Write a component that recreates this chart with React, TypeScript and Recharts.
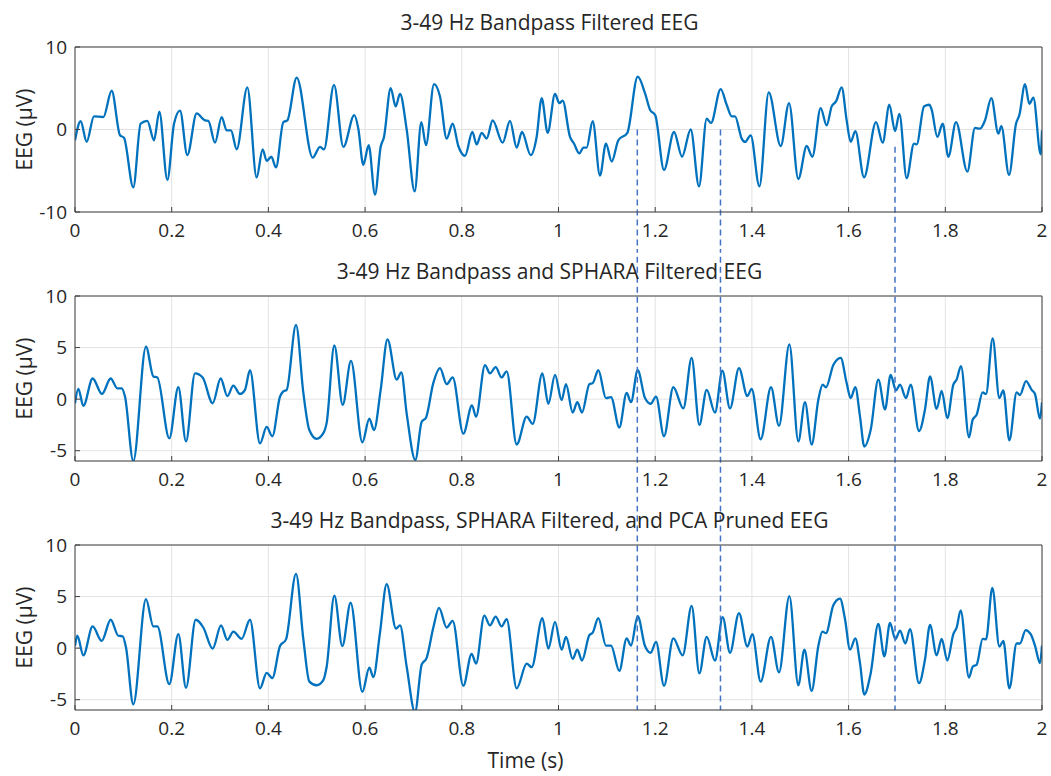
import React from 'react';
import { LineChart, Line, XAxis, YAxis, CartesianGrid, ReferenceLine, Label } from 'recharts';

const timeTicks = [0, 0.2, 0.4, 0.6, 0.8, 1, 1.2, 1.4, 1.6, 1.8, 2];
const p1Ticks = [-10, 0, 10];
const p23Ticks = [-5, 0, 5, 10];

const titles = [
  '3-49 Hz Bandpass Filtered EEG',
  '3-49 Hz Bandpass and SPHARA Filtered EEG',
  '3-49 Hz Bandpass, SPHARA Filtered, and PCA Pruned EEG',
];

const markerTimes = [1.163, 1.335, 1.696];
const markerStartP1 = [0, 0, -2.1];

const p1Times = [
  0, 0.0117, 0.0241, 0.0393, 0.0586, 0.0758, 0.0931, 0.1013, 0.1206, 0.1358, 0.1496, 0.1634, 0.1744, 0.191, 0.2048, 0.2172, 0.2323, 0.2516, 0.2689, 0.2758, 0.2896, 0.3033, 0.3137, 0.3226, 0.3344, 0.3564, 0.3757, 0.3881, 0.3964, 0.406, 0.4157, 0.4309, 0.4392, 0.4585, 0.4916, 0.5067,
  0.515, 0.5357, 0.555, 0.5777, 0.586, 0.5963, 0.6074, 0.6205, 0.6322, 0.6391, 0.6529, 0.6632, 0.6722, 0.686, 0.7025, 0.7163, 0.7259, 0.7425, 0.7549, 0.7687, 0.7811, 0.7928, 0.8066, 0.8218, 0.8307, 0.8411, 0.8514, 0.8638, 0.8845, 0.8997, 0.9135, 0.9245, 0.9424, 0.9548, 0.9652, 0.9776, 0.9928,
  1.0017, 1.0086, 1.0238, 1.032, 1.0431, 1.0514, 1.0582, 1.0707, 1.0858, 1.0982, 1.11, 1.1238, 1.1424, 1.1638, 1.1789, 1.1893, 1.2003, 1.2182, 1.2389, 1.2555, 1.2734, 1.2906, 1.3065, 1.3154, 1.3354, 1.3478, 1.3582, 1.3651, 1.3789, 1.3858, 1.3975, 1.4155, 1.4348, 1.4596, 1.4768,
  1.496, 1.5133, 1.525, 1.5422, 1.5546, 1.565, 1.574, 1.5857, 1.596, 1.6043, 1.6139, 1.6319, 1.6567, 1.6705, 1.6843, 1.696, 1.705, 1.7201, 1.7353, 1.7408, 1.756, 1.767, 1.7718, 1.7835, 1.7946, 1.8063, 1.8222, 1.8456, 1.8615, 1.8718, 1.8821, 1.8952, 1.9097, 1.9159, 1.9318, 1.9463, 1.9532, 1.9649, 1.9738, 1.9821, 1.9973, 2.0,
];
const p1Values = [
  -1.3, 1.0, -1.5, 1.6, 1.5, 4.7, -0.7, -1.0, -7.0, 0.7, 1.05, -1.3, 2.15, -6.1, 0.7, 2.3, -3.1, 1.95, 1.1, 1.05, -1.6, 1.5, -0.1, -0.1, -2.4, 5.1, -5.8, -2.4, -3.8, -3.3, -4.6, 0.9, 1.1, 6.3, -3.4, -2.1,
  -2.4, 5.4, -2.1, 1.75, 0.1, -4.3, -1.9, -7.9, -2.1, -0.9, 5.0, 2.8, 4.3, 0.0, -7.5, 0.9, -1.9, 5.5, 4.0, -1.1, 0.7, -2.0, -3.2, -0.3, -1.8, -0.4, -1.1, 1.1, -1.6, 1.05, -2.2, -0.3, -3.1, -0.9, 3.8, -0.4, 4.3,
  3.2, 3.5, -0.9, -1.7, -2.9, -2.2, -2.2, 1.0, -5.6, -1.7, -3.9, -1.3, -0.4, 6.4, 4.4, 2.4, 1.7, -4.9, -0.3, -3.3, 0.0, -6.9, 1.3, 0.8, 4.9, 3.0, 1.6, 1.6, -1.1, -1.5, -0.7, -6.9, 4.5, -2.0, 3.2,
  -6.0, -2.0, -3.3, 2.6, 0.5, 2.8, 3.4, 5.1, 1.1, -1.5, -0.2, -5.8, 0.9, -1.6, 3.0, -0.2, 1.9, -5.9, -1.7, -1.8, 2.8, 3.0, 2.4, -0.9, 0.7, -3.3, 0.9, -5.1, 0.2, 0.1, 1.1, 3.8, -0.5, 0.4, -5.5, 0.7, 1.75, 5.5, 3.1, 3.85, -3.0, -0.1,
];

const p2Times = [
  0, 0.0069, 0.0172, 0.0365, 0.0558, 0.0738, 0.0876, 0.0965, 0.1034, 0.1206, 0.1468, 0.162, 0.1703, 0.1951, 0.2137, 0.2296, 0.2482, 0.264, 0.2847, 0.3013, 0.3151, 0.3275, 0.3413, 0.3516, 0.3619, 0.3826, 0.3964, 0.4081, 0.424, 0.4309, 0.4378, 0.4571, 0.4723, 0.4847,
  0.4998, 0.5136, 0.5205, 0.5364, 0.5536, 0.5708, 0.5943, 0.6088, 0.6184, 0.6322, 0.6463, 0.6653, 0.6749, 0.686, 0.7039, 0.717, 0.7259, 0.741, 0.7549, 0.7687, 0.7811, 0.8032, 0.8211, 0.8294, 0.848, 0.8583, 0.87, 0.8824, 0.8928, 0.9135, 0.9342, 0.9466, 0.9666, 0.979, 0.9928,
  1.0065, 1.0155, 1.0293, 1.0389, 1.0486, 1.0638, 1.0707, 1.0824, 1.0982, 1.1086, 1.1258, 1.141, 1.1499, 1.1638, 1.1789, 1.1906, 1.2017, 1.2182, 1.2375, 1.2582, 1.2754, 1.2913, 1.3065, 1.3237, 1.3389, 1.3547, 1.3733, 1.3906, 1.3995, 1.4181, 1.4395, 1.4561, 1.4775,
  1.496, 1.5098, 1.5236, 1.5374, 1.5464, 1.5533, 1.5684, 1.5836, 1.596, 1.6043, 1.6139, 1.6236, 1.6325, 1.6456, 1.6615, 1.6753, 1.687, 1.698, 1.7063, 1.7187, 1.7284, 1.7456, 1.758, 1.7684, 1.7821, 1.7925, 1.8042, 1.8166, 1.8235, 1.8325, 1.849, 1.8566, 1.8649, 1.8773, 1.8842, 1.898, 1.9118, 1.92, 1.9325, 1.9476, 1.9545, 1.9669, 1.9786, 1.9855, 1.9959, 2.0,
];
const p2Values = [
  -0.4, 1.0, -0.65, 2.0, 0.5, 2.0, 1.05, 1.05, 0.25, -6.0, 5.1, 2.2, 2.1, -3.8, 1.15, -4.1, 2.5, 2.1, -0.4, 2.0, 0.3, 1.3, 0.5, 0.9, 2.8, -4.3, -2.7, -3.6, 0.25, 0.75, 0.9, 7.2, 0.6, -3.0,
  -3.85, -3.3, -2.3, 5.2, -0.55, 3.7, -4.2, -1.9, -3.0, 0.9, 5.8, 1.9, 2.6, -1.4, -5.9, -2.2, -1.8, 1.55, 3.0, 1.45, 2.1, -3.35, -0.6, -1.7, 3.3, 2.5, 3.1, 2.1, 2.7, -4.4, -1.7, -2.4, 2.5, -0.45, 2.35,
  -0.1, 1.45, -1.3, -0.3, -1.3, 1.45, 1.55, 2.8, 0.1, 0.2, -2.75, 0.6, -0.3, 2.8, 0.1, -0.45, 0.25, -3.6, 1.15, -0.9, 4.0, -2.5, 0.9, -1.3, 2.75, -0.9, 3.0, 0.3, 1.0, -3.9, 1.15, -2.6, 5.3,
  -4.1, -0.3, -4.4, -0.05, 1.4, 1.15, 3.3, 4.0, 1.55, 0.1, 1.15, -1.7, -4.6, -3.0, 1.9, -1.0, 2.35, 0.85, 1.4, 0.1, 1.4, -3.1, -1.0, 2.2, -0.95, 0.8, -1.85, 1.4, 1.9, 3.2, -3.7, -2.0, -1.5, 0.65, 0.5, 5.9, 0.1, 0.85, -4.0, 0.65, 0.4, 1.75, 0.9, 0.5, -1.9, -0.3,
];

const p3Times = [
  0, 0.0048, 0.0172, 0.0365, 0.0552, 0.0738, 0.0896, 0.0986, 0.1055, 0.1206, 0.1468, 0.162, 0.1703, 0.1951, 0.2137, 0.2296, 0.2496, 0.2654, 0.2847, 0.302, 0.3151, 0.3275, 0.3447, 0.3619, 0.3826, 0.3964, 0.4081, 0.424, 0.4364, 0.4571, 0.4723, 0.4847, 0.4998,
  0.5136, 0.5205, 0.5364, 0.5529, 0.5701, 0.5943, 0.6088, 0.617, 0.6308, 0.6446, 0.6639, 0.6722, 0.686, 0.7032, 0.717, 0.7273, 0.7411, 0.7529, 0.7687, 0.7811, 0.8032, 0.8204, 0.8294, 0.8466, 0.8583, 0.87, 0.8824, 0.8928, 0.9135, 0.9342, 0.9445, 0.9666, 0.979, 0.9928,
  1.0065, 1.0155, 1.0293, 1.0389, 1.0486, 1.0638, 1.0707, 1.0824, 1.0982, 1.1086, 1.1258, 1.141, 1.1499, 1.1638, 1.1789, 1.1906, 1.2017, 1.2182, 1.2375, 1.2568, 1.2754, 1.2913, 1.3065, 1.3237, 1.3396, 1.3547, 1.3733, 1.3906, 1.4009, 1.4181, 1.4395, 1.4561, 1.4775,
  1.496, 1.5085, 1.5236, 1.5374, 1.5457, 1.5533, 1.5684, 1.5822, 1.5926, 1.603, 1.6139, 1.6236, 1.6325, 1.6456, 1.6615, 1.6739, 1.6856, 1.6967, 1.7063, 1.7173, 1.727, 1.7456, 1.758, 1.7684, 1.7821, 1.7925, 1.8042, 1.8166, 1.8235, 1.8318, 1.849, 1.8566, 1.8649, 1.8773, 1.8842, 1.8973, 1.9118, 1.92, 1.9325, 1.9476, 1.9545, 1.9662, 1.9766, 1.9855, 1.9959, 2.0,
];
const p3Values = [
  0.2, 1.2, -0.7, 2.1, 0.7, 2.75, 1.2, 1.15, 0.05, -5.45, 4.75, 2.1, 2.1, -3.5, 1.35, -3.85, 2.75, 2.0, -0.05, 2.2, 0.8, 1.6, 0.9, 2.75, -3.9, -2.4, -2.9, 0.2, 0.85, 7.2, 0.85, -3.25, -3.6,
  -3.1, -1.8, 5.1, 0.2, 4.4, -4.25, -1.9, -2.8, 1.5, 6.2, 1.9, 2.2, -1.8, -6.2, -1.6, -0.95, 2.0, 3.9, 2.0, 2.65, -3.65, -0.55, -1.5, 3.15, 2.2, 3.05, 2.1, 2.8, -3.9, -1.5, -1.85, 2.9, -0.05, 2.55,
  -0.15, 1.1, -1.05, -0.15, -1.2, 1.25, 1.5, 2.9, 0.25, 0.25, -2.2, 0.95, 0.25, 3.1, 0.2, -0.45, 0.6, -3.65, 0.95, -0.7, 4.1, -2.45, 1.1, -1.2, 3.0, -0.45, 3.4, 0.15, 1.35, -3.25, 1.1, -2.35, 5.05,
  -3.6, -0.15, -4.15, 0.2, 1.6, 1.45, 4.15, 4.8, 2.8, -0.15, 0.95, -1.45, -4.5, -2.45, 2.35, -0.8, 2.45, 0.85, 1.7, 0.45, 1.85, -3.4, -1.1, 2.25, -0.7, 0.9, -1.2, 1.35, 2.0, 3.65, -2.85, -1.8, -1.6, 0.9, 0.85, 5.85, 0.15, 0.7, -3.9, 0.45, 0.45, 1.75, 1.35, 0.25, -1.45, 0.25,
];

const FONT = "'Open Sans', 'Noto Sans', sans-serif";
const AXIS = '#404040';
const TEXT = '#262626';
const LINE = '#0072BD';
const DASH = '#4472C4';

type PanelProps = {
  title: string;
  times: number[];
  values: number[];
  yDomain: [number, number];
  yTicks: number[];
  markerStart: number[];
  markerEnd: number;
  height: number;
  xAxisHeight: number;
  bottom: number;
  xLabel?: string;
};

function Panel(p: PanelProps) {
  const data = p.times.map((t, i) => ({ t, v: p.values[i] }));
  const titleContent = (props: any) => {
    const vb = props.viewBox;
    const cx = vb.x + vb.width / 2 - 9;
    return (
      <text x={cx} y={vb.y + vb.height - 25} textAnchor="middle" dominantBaseline="central" fill={TEXT} fontSize={21} fontFamily={FONT}>
        {p.title}
      </text>
    );
  };
  const yLabelContent = (props: any) => {
    const vb = props.viewBox;
    const cx = vb.x + 9;
    const cy = vb.y + vb.height / 2;
    return (
      <text x={cx} y={cy} transform={`rotate(-90, ${cx}, ${cy})`} textAnchor="middle" dominantBaseline="central" fill={TEXT} fontSize={21} fontFamily={FONT}>
        EEG (µV)
      </text>
    );
  };
  const xLabelContent = (props: any) => {
    const vb = props.viewBox;
    const cx = vb.x + vb.width / 2 - 33;
    return (
      <text x={cx} y={vb.y + 50} textAnchor="middle" dominantBaseline="central" fill={TEXT} fontSize={21} fontFamily={FONT}>
        {p.xLabel}
      </text>
    );
  };
  return (
    <LineChart width={1051} height={p.height} data={data} margin={{ top: 46, right: 8, bottom: p.bottom, left: 15 }}>
      <CartesianGrid stroke="#e3e3e3" strokeWidth={1} />
      <XAxis
        dataKey="t"
        type="number"
        domain={[0, 2]}
        ticks={timeTicks}
        interval={0}
        allowDataOverflow
        height={p.xAxisHeight}
        tickSize={-5}
        tickMargin={17}
        stroke={AXIS}
        tick={{ fill: TEXT, fontSize: 19, fontFamily: FONT }}
        tickFormatter={(v: number) => String(v)}
      >
        {p.xLabel ? <Label content={xLabelContent} /> : null}
      </XAxis>
      <XAxis
        xAxisId="top"
        orientation="top"
        dataKey="t"
        type="number"
        domain={[0, 2]}
        ticks={timeTicks}
        interval={0}
        allowDataOverflow
        height={1}
        tickSize={-5}
        tick={false}
        stroke={AXIS}
      >
        <Label content={titleContent} />
      </XAxis>
      <YAxis
        type="number"
        domain={p.yDomain}
        ticks={p.yTicks}
        interval={0}
        allowDataOverflow
        width={60}
        tickSize={-5}
        tickMargin={13}
        stroke={AXIS}
        tick={{ fill: TEXT, fontSize: 19, fontFamily: FONT }}
      >
        <Label content={yLabelContent} />
      </YAxis>
      <YAxis
        yAxisId="right"
        orientation="right"
        type="number"
        domain={p.yDomain}
        ticks={p.yTicks}
        interval={0}
        allowDataOverflow
        width={1}
        tickSize={-5}
        tick={false}
        stroke={AXIS}
      />
      <Line dataKey="v" type="monotone" stroke={LINE} strokeWidth={2.3} dot={false} isAnimationActive={false} />
      {markerTimes.map((m, i) => (
        <ReferenceLine
          key={i}
          segment={[{ x: m, y: p.markerStart[i] }, { x: m, y: p.markerEnd }]}
          ifOverflow="visible"
          stroke={DASH}
          strokeWidth={1.5}
          strokeDasharray="6 4"
        />
      ))}
    </LineChart>
  );
}

export default function App() {
  return (
    <div style={{ position: 'absolute', left: 0, top: 0, width: 1051, height: 776, background: '#fff' }}>
      <div style={{ position: 'absolute', left: 0, top: 0 }}>
        <Panel title={titles[0]} times={p1Times} values={p1Values} yDomain={[-10, 10]} yTicks={p1Ticks}
          markerStart={markerStartP1} markerEnd={-40} height={249} xAxisHeight={30} bottom={7} />
      </div>
      <div style={{ position: 'absolute', left: 0, top: 249 }}>
        <Panel title={titles[1]} times={p2Times} values={p2Values} yDomain={[-6, 10]} yTicks={p23Ticks}
          markerStart={[40, 40, 40]} markerEnd={-40} height={249} xAxisHeight={30} bottom={7} />
      </div>
      <div style={{ position: 'absolute', left: 0, top: 498 }}>
        <Panel title={titles[2]} times={p3Times} values={p3Values} yDomain={[-6, 10]} yTicks={p23Ticks}
          markerStart={[40, 40, 40]} markerEnd={-6} height={278} xAxisHeight={64} bottom={2} xLabel="Time (s)" />
      </div>
    </div>
  );
}
